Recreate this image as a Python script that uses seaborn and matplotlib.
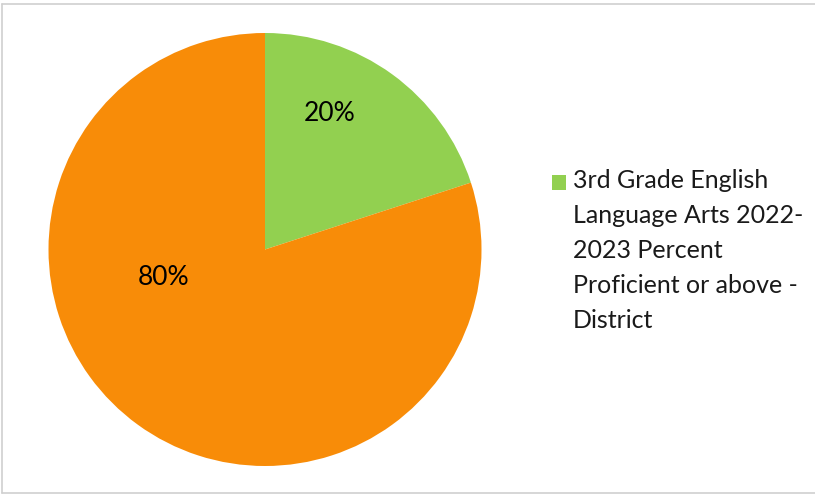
import matplotlib
matplotlib.use("Agg")
import matplotlib.pyplot as plt
from matplotlib.patches import Rectangle
from matplotlib.legend_handler import HandlerPatch
import seaborn as sns

# Share of 3rd grade ELA students, 2022-2023 (district)
categories = ["Proficient or above", "Below proficient"]
values = [20, 80]
colors = ["#92D050", "#F88C08"]
legend_label = ("3rd Grade English\nLanguage Arts 2022-\n2023 Percent\n"
                "Proficient or above -\nDistrict")

sns.set_theme(style="white")
plt.rcParams["font.family"] = ["Lato", "DejaVu Sans"]

FS = 18
LINESPACING = 1.63
N_LINES = legend_label.count("\n") + 1

W, H = 815, 497
fig = plt.figure(figsize=(W / 100, H / 100), dpi=100)

# pie axes: centre (265, 249.5) px from top-left, radius 216.5 px
r = 216.5
cx, cy = 265, H - 249.5
ax = fig.add_axes([(cx - r) / W, (cy - r) / H, 2 * r / W, 2 * r / H])

wedges, texts, autotexts = ax.pie(
    values, colors=colors, startangle=90, counterclock=False,
    autopct="%d%%", radius=1, wedgeprops=dict(linewidth=0),
    textprops=dict(fontsize=19, color="black"))
ax.set_xlim(-1, 1)
ax.set_ylim(-1, 1)
ax.set_aspect("equal")
ax.axis("off")

# data-label placement inside each slice
autotexts[0].set_position((0.30, 0.63))
autotexts[1].set_position((-0.467, -0.13))


def top_line_key(legend, orig_handle, xdescent, ydescent, width, height, fontsize):
    # legend key sits beside the first line of a multi-line label
    lift = (N_LINES - 1) / 2 * LINESPACING * fontsize * 0.85
    return Rectangle((-xdescent, -ydescent + lift), width, height)


leg = fig.legend([wedges[0]], [legend_label], loc="upper left",
                 bbox_to_anchor=(539.5 / W, 1 - 157 / H), frameon=False,
                 fontsize=FS, handlelength=0.55, handleheight=0.55,
                 handletextpad=0.28, borderpad=0, labelspacing=0,
                 handler_map={wedges[0]: HandlerPatch(patch_func=top_line_key)})
for t in leg.get_texts():
    t.set_linespacing(LINESPACING)
    t.set_color("#1a1a1a")

# light frame around the chart area
for xs, ys in [((2, 2), (4, 493)), ((2, W), (4, 4)), ((2, W), (493, 493))]:
    fig.add_artist(plt.Line2D([x / W for x in xs], [1 - y / H for y in ys],
                              color="#CFCFCF", linewidth=1.2))

fig.savefig("out.png", dpi=100, facecolor="white")
